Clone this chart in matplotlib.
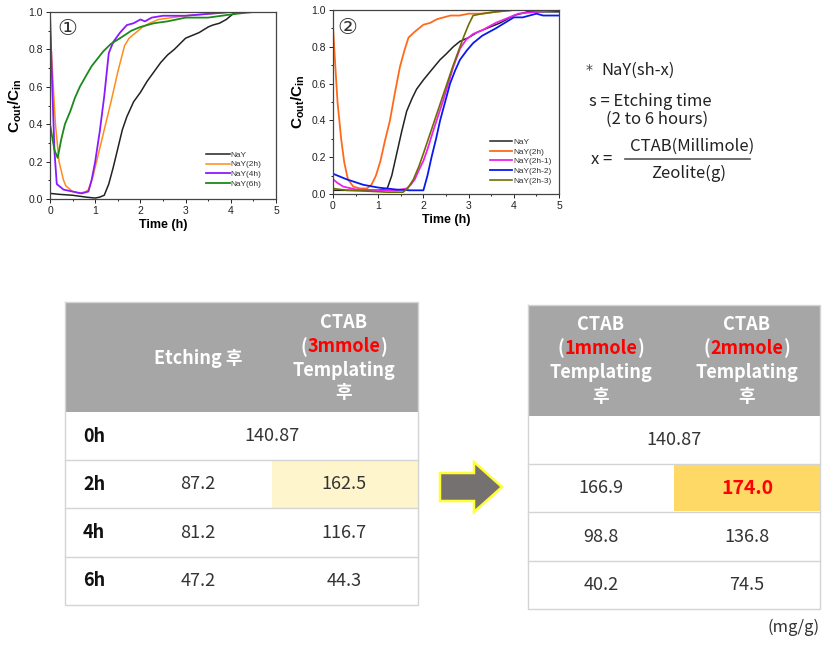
import matplotlib
matplotlib.use('Agg')
import matplotlib.pyplot as plt
from matplotlib.patches import Rectangle, Polygon
from matplotlib.lines import Line2D

# ---------------- data ----------------
# chart 1 : etching time series
t1_nay = [0, 0.2, 0.5, 0.8, 1.0, 1.1, 1.2, 1.3, 1.4, 1.5, 1.6, 1.7, 1.85, 2.0, 2.15, 2.3, 2.45, 2.6, 2.75, 3.0, 3.3, 3.5, 3.6, 3.75, 3.9, 4.05, 4.3, 5.0]
y1_nay = [0.03, 0.025, 0.02, 0.01, 0.005, 0.01, 0.02, 0.08, 0.17, 0.27, 0.37, 0.44, 0.52, 0.57, 0.63, 0.68, 0.73, 0.77, 0.80, 0.86, 0.89, 0.92, 0.93, 0.94, 0.96, 0.99, 1.0, 1.0]
t1_2h = [0, 0.05, 0.12, 0.2, 0.3, 0.35, 0.5, 0.65, 0.8, 0.85, 0.95, 1.05, 1.2, 1.35, 1.5, 1.65, 1.75, 1.9, 2.05, 2.2, 2.4, 2.7, 3.0, 3.5, 4.0, 5.0]
y1_2h = [0.92, 0.7, 0.4, 0.2, 0.1, 0.07, 0.04, 0.03, 0.04, 0.05, 0.12, 0.22, 0.37, 0.52, 0.68, 0.82, 0.86, 0.89, 0.92, 0.94, 0.96, 0.97, 0.98, 0.99, 1.0, 1.0]
t1_4h = [0, 0.05, 0.1, 0.15, 0.3, 0.5, 0.7, 0.85, 0.92, 1.0, 1.1, 1.2, 1.3, 1.4, 1.55, 1.7, 1.85, 2.0, 2.1, 2.25, 2.5, 3.0, 3.5, 4.0, 5.0]
y1_4h = [1.0, 0.6, 0.25, 0.08, 0.05, 0.04, 0.03, 0.04, 0.1, 0.2, 0.36, 0.55, 0.78, 0.84, 0.89, 0.93, 0.94, 0.96, 0.95, 0.97, 0.98, 0.98, 0.99, 1.0, 1.0]
t1_6h = [0, 0.05, 0.1, 0.17, 0.25, 0.33, 0.45, 0.55, 0.66, 0.8, 0.92, 1.05, 1.18, 1.35, 1.55, 1.8, 2.0, 2.3, 2.6, 3.0, 3.5, 3.8, 4.1, 4.5, 5.0]
y1_6h = [0.40, 0.33, 0.26, 0.22, 0.32, 0.40, 0.47, 0.54, 0.60, 0.66, 0.71, 0.75, 0.79, 0.83, 0.86, 0.90, 0.92, 0.94, 0.95, 0.97, 0.97, 0.98, 0.99, 1.0, 1.0]

# chart 2 : CTAB series
t2_nay = [0, 0.5, 1.0, 1.2, 1.3, 1.41, 1.52, 1.63, 1.75, 1.85, 2.0, 2.2, 2.37, 2.5, 2.66, 2.81, 3.0, 3.2, 3.4, 3.7, 4.0, 4.3, 5.0]
y2_nay = [0.02, 0.02, 0.02, 0.03, 0.1, 0.22, 0.34, 0.45, 0.52, 0.57, 0.62, 0.68, 0.73, 0.76, 0.80, 0.83, 0.85, 0.88, 0.90, 0.93, 0.97, 0.99, 0.99]
t2_2h = [0, 0.05, 0.1, 0.18, 0.25, 0.33, 0.45, 0.6, 0.75, 0.85, 0.95, 1.05, 1.15, 1.26, 1.37, 1.48, 1.58, 1.67, 1.8, 2.0, 2.15, 2.3, 2.45, 2.6, 2.8, 3.0, 3.3, 3.6, 4.0, 5.0]
y2_2h = [0.91, 0.7, 0.5, 0.3, 0.17, 0.08, 0.04, 0.03, 0.03, 0.05, 0.1, 0.18, 0.29, 0.4, 0.55, 0.69, 0.78, 0.85, 0.88, 0.92, 0.93, 0.95, 0.96, 0.97, 0.97, 0.98, 0.98, 0.99, 1.0, 1.0]
t2_2h1 = [0, 0.1, 0.23, 0.5, 1.0, 1.4, 1.63, 1.72, 1.81, 1.9, 2.0, 2.1, 2.2, 2.32, 2.44, 2.55, 2.66, 2.81, 2.95, 3.1, 3.3, 3.6, 3.8, 4.1, 4.5, 5.0]
y2_2h1 = [0.08, 0.06, 0.04, 0.025, 0.02, 0.02, 0.03, 0.05, 0.08, 0.13, 0.18, 0.25, 0.33, 0.42, 0.51, 0.6, 0.69, 0.79, 0.84, 0.87, 0.89, 0.93, 0.95, 0.98, 0.99, 1.0]
t2_2h2 = [0, 0.3, 0.67, 1.0, 1.41, 1.7, 2.0, 2.09, 2.18, 2.28, 2.37, 2.48, 2.59, 2.7, 2.81, 2.96, 3.1, 3.3, 3.6, 3.8, 4.0, 4.2, 4.35, 4.5, 4.65, 5.0]
y2_2h2 = [0.11, 0.08, 0.05, 0.035, 0.024, 0.02, 0.02, 0.1, 0.2, 0.3, 0.4, 0.5, 0.6, 0.67, 0.73, 0.78, 0.82, 0.86, 0.9, 0.93, 0.96, 0.96, 0.97, 0.98, 0.97, 0.97]
t2_2h3 = [0, 0.3, 0.8, 1.2, 1.55, 1.65, 1.78, 1.9, 2.0, 2.11, 2.22, 2.33, 2.44, 2.55, 2.66, 2.78, 2.9, 3.0, 3.1, 3.3, 3.6, 4.0, 5.0]
y2_2h3 = [0.03, 0.02, 0.015, 0.01, 0.01, 0.03, 0.08, 0.15, 0.22, 0.3, 0.38, 0.46, 0.54, 0.62, 0.7, 0.78, 0.86, 0.92, 0.97, 0.98, 0.99, 1.0, 1.0]

# tables (mg/g)
row_labels = ['0h', '2h', '4h', '6h']
base_value = '140.87'
etching = ['87.2', '81.2', '47.2']
ctab3 = ['162.5', '116.7', '44.3']
ctab1 = ['166.9', '98.8', '40.2']
ctab2 = ['174.0', '136.8', '74.5']

KR = ['Noto Sans CJK KR', 'DejaVu Sans']
plt.rcParams['font.family'] = ['Liberation Sans', 'DejaVu Sans']
plt.rcParams['mathtext.fontset'] = 'custom'
plt.rcParams['mathtext.bf'] = 'Liberation Sans:bold'
plt.rcParams['mathtext.rm'] = 'Liberation Sans'

fig = plt.figure(figsize=(8.27, 6.46), dpi=100)
W, H = 827, 646


def px_axes(l, t, r, b):
    return fig.add_axes([l / W, 1 - b / H, (r - l) / W, (b - t) / H])


def style_chart(ax):
    ax.set_xlim(0, 5)
    ax.set_ylim(0, 1)
    ax.set_xticks([0, 1, 2, 3, 4, 5])
    ax.set_yticks([0, 0.2, 0.4, 0.6, 0.8, 1.0])
    ax.set_yticklabels(['0.0', '0.2', '0.4', '0.6', '0.8', '1.0'])
    ax.set_xticks([0.5, 1.5, 2.5, 3.5, 4.5], minor=True)
    ax.set_yticks([0.1, 0.3, 0.5, 0.7, 0.9], minor=True)
    ax.tick_params(labelsize=7.5, length=3, width=0.7, pad=2, colors='#222222')
    ax.tick_params(which='minor', length=1.5, width=0.6)
    for s in ax.spines.values():
        s.set_color('#444444')
        s.set_linewidth(0.9)
    ax.set_xlabel('Time (h)', fontsize=9, fontweight='bold', labelpad=2)
    ax.set_ylabel(r'$\mathbf{C_{out}/C_{in}}$', fontsize=11, labelpad=3)


ax1 = px_axes(50, 12, 276, 199)
ax1.plot(t1_nay, y1_nay, color='#222222', lw=1.1, label='NaY')
ax1.plot(t1_2h, y1_2h, color='#ff8c1a', lw=1.1, label='NaY(2h)')
ax1.plot(t1_4h, y1_4h, color='#8a1aff', lw=1.3, label='NaY(4h)')
ax1.plot(t1_6h, y1_6h, color='#1a8a1a', lw=1.3, label='NaY(6h)')
style_chart(ax1)
ax1.legend(loc='lower right', bbox_to_anchor=(0.97, 0.02), fontsize=6, frameon=False,
           handlelength=2.8, handletextpad=0.15, labelspacing=0.22, labelcolor='#333333')
ax1.text(0.075, 0.91, '\u2460', transform=ax1.transAxes, fontsize=16, ha='center', va='center',
         family='DejaVu Sans', color='#333333')

ax2 = px_axes(333, 10, 559, 194)
ax2.plot(t2_nay, y2_nay, color='#222222', lw=1.1, label='NaY')
ax2.plot(t2_2h, y2_2h, color='#ff6a1a', lw=1.3, label='NaY(2h)')
ax2.plot(t2_2h1, y2_2h1, color='#ee22ee', lw=1.3, label='NaY(2h-1)')
ax2.plot(t2_2h2, y2_2h2, color='#0a1aee', lw=1.3, label='NaY(2h-2)')
ax2.plot(t2_2h3, y2_2h3, color='#6e6e00', lw=1.2, label='NaY(2h-3)')
style_chart(ax2)
ax2.legend(loc='lower right', bbox_to_anchor=(1.0, 0.01), fontsize=6, frameon=False,
           handlelength=2.6, handletextpad=0.15, labelspacing=0.22, labelcolor='#333333')
ax2.text(0.062, 0.9, '\u2461', transform=ax2.transAxes, fontsize=16, ha='center', va='center',
         family='DejaVu Sans', color='#333333')

# overlay in pixel coordinates
ov = fig.add_axes([0, 0, 1, 1])
ov.set_xlim(0, W)
ov.set_ylim(H, 0)
ov.axis('off')
renderer = fig.canvas.get_renderer()


def parts_text(xc, y, parts, **kw):
    ts = [ov.text(0, y, s, color=c, ha='left', va='center', **kw) for s, c in parts]
    ws = [t.get_window_extent(renderer).width for t in ts]
    x = xc - sum(ws) / 2
    for t, w in zip(ts, ws):
        t.set_x(x)
        x += w


# side note
NOTE = dict(fontsize=12, family=KR, va='center', color='#222222')
ov.text(586, 70, '*', fontsize=10, family='DejaVu Sans', va='center', color='#444444')
ov.text(601, 70, 'NaY(sh-x)', **NOTE)
ov.text(589, 101, 's = Etching time', **NOTE)
ov.text(606, 119, '(2 to 6 hours)', **NOTE)
ov.text(591, 159, 'x =', **NOTE)
ov.plot([625, 750], [159, 159], color='#555555', lw=1.2)
ov.text(692, 146, 'CTAB(Millimole)', ha='center', **NOTE)
ov.text(689, 173, 'Zeolite(g)', ha='center', **NOTE)

HDR = '#a6a6a6'
GRID = '#d4d4d4'
VAL = '#333333'
FS = 13


def draw_table(x0, x1, hy0, rows_y, highlight, hl_color):
    ov.add_patch(Rectangle((x0, hy0), x1 - x0, rows_y[0] - hy0, facecolor=HDR, edgecolor='none'))
    ov.add_patch(Rectangle(highlight[:2], highlight[2], highlight[3], facecolor=hl_color, edgecolor='none'))
    for yy in rows_y[1:-1]:
        ov.add_line(Line2D([x0, x1], [yy, yy], color=GRID, lw=1.0))
    ov.add_line(Line2D([x0, x1, x1, x0, x0], [hy0, hy0, rows_y[-1], rows_y[-1], hy0], color=GRID, lw=1.0))


# left table
lrows = [412, 460, 508, 557, 605]
draw_table(65, 418, 302, lrows, (272, 461, 146, 47), '#fff5cc')
ov.text(198, 358, 'Etching 후', fontsize=FS, family=KR, fontweight='bold', color='white', ha='center', va='center')
ov.text(344, 322, 'CTAB', fontsize=FS, family=KR, fontweight='bold', color='white', ha='center', va='center')
parts_text(344, 347, [('(', 'white'), ('3mmole', '#ff0000'), (')', 'white')], fontsize=FS, family=KR, fontweight='bold')
ov.text(344, 370, 'Templating', fontsize=FS, family=KR, fontweight='bold', color='white', ha='center', va='center')
ov.text(344, 393, '후', fontsize=FS, family=KR, fontweight='bold', color='white', ha='center', va='center')
for i, lab in enumerate(row_labels):
    yc = (lrows[i] + lrows[i + 1]) / 2
    ov.text(83, yc, lab, fontsize=FS, family=KR, fontweight='bold', color='#111111', va='center')
ov.text(272, (lrows[0] + lrows[1]) / 2, base_value, fontsize=FS, family=KR, color=VAL, ha='center', va='center')
for i in range(3):
    yc = (lrows[i + 1] + lrows[i + 2]) / 2
    ov.text(198, yc, etching[i], fontsize=FS, family=KR, color=VAL, ha='center', va='center')
    ov.text(344, yc, ctab3[i], fontsize=FS, family=KR, color=VAL, ha='center', va='center')

# right table
rrows = [416, 464, 512, 561, 609]
draw_table(528, 820, 305, rrows, (674, 465, 146, 46), '#ffd966')
for xc, amt in [(601, '1mmole'), (747, '2mmole')]:
    ov.text(xc, 324, 'CTAB', fontsize=FS, family=KR, fontweight='bold', color='white', ha='center', va='center')
    parts_text(xc, 348, [('(', 'white'), (amt, '#ff0000'), (')', 'white')], fontsize=FS, family=KR, fontweight='bold')
    ov.text(xc, 373, 'Templating', fontsize=FS, family=KR, fontweight='bold', color='white', ha='center', va='center')
    ov.text(xc, 397, '후', fontsize=FS, family=KR, fontweight='bold', color='white', ha='center', va='center')
ov.text(674, (rrows[0] + rrows[1]) / 2, base_value, fontsize=FS, family=KR, color=VAL, ha='center', va='center')
for i in range(3):
    yc = (rrows[i + 1] + rrows[i + 2]) / 2
    ov.text(601, yc, ctab1[i], fontsize=FS, family=KR, color=VAL, ha='center', va='center')
    if i == 0:
        ov.text(747, yc, ctab2[i], fontsize=FS + 1, family=KR, fontweight='bold', color='#ff0000', ha='center', va='center')
    else:
        ov.text(747, yc, ctab2[i], fontsize=FS, family=KR, color=VAL, ha='center', va='center')
ov.text(820, 627, '(mg/g)', fontsize=12, family=KR, color='#333333', ha='right', va='center')

# arrow
ov.add_patch(Polygon([(440, 473), (474, 473), (474, 462), (502, 487), (474, 512), (474, 501), (440, 501)],
                     closed=True, facecolor='#767171', edgecolor='#ffff33', lw=1.8, joinstyle='miter'))

fig.savefig('out.png', dpi=100)
